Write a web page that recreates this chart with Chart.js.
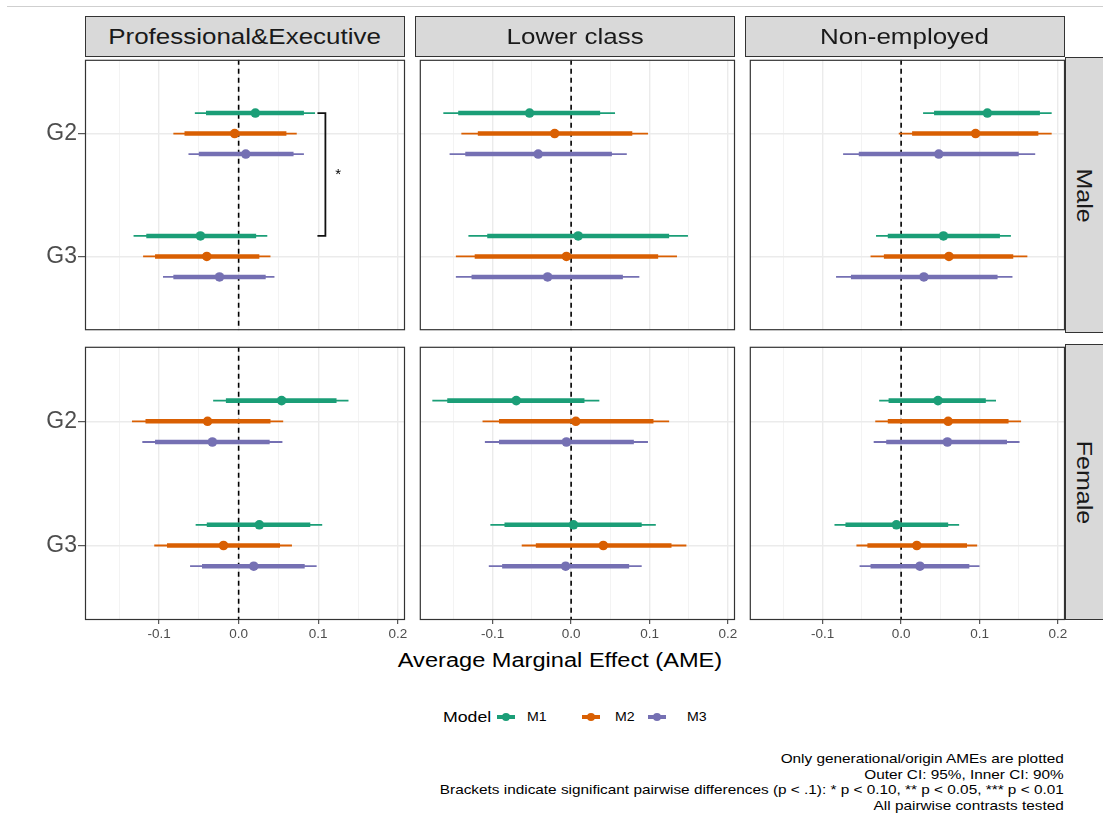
<!DOCTYPE html>
<html>
<head>
<meta charset="utf-8">
<title>Average Marginal Effect by class and gender</title>
<script src="https://cdn.jsdelivr.net/npm/chart.js@4.4.1/dist/chart.umd.min.js"></script>
<style>
  html, body { margin: 0; padding: 0; background: #fff; }
  body { width: 1103px; height: 820px; position: relative; overflow: hidden;
         font-family: "Liberation Sans", Arial, sans-serif; }
  .topline { position: absolute; left: 7px; right: 0; top: 6px; height: 1px; background: #cfcfcf; }
  canvas { position: absolute; }
  .strip { position: absolute; box-sizing: border-box; background: #d9d9d9; border: 1px solid #333;
           color: #1a1a1a; display: flex; align-items: center; justify-content: center; overflow: hidden; }
  .strip span { display: inline-block; white-space: nowrap; }
  .strip.top span { font-size: 22px; transform: scaleX(1.18); }
  .strip.side span { font-size: 25px; transform: rotate(90deg) scale(1, 0.9); }
  .xtitle { position: absolute; left: 560px; top: 648px; font-size: 20px; line-height: 24px;
            white-space: nowrap; transform: translateX(-50%) scaleX(1.18); }
  .legend-title { position: absolute; left: 443px; top: 708px; font-size: 15px; line-height: 18px;
                  transform: scaleX(1.18); transform-origin: left center; }
  .legend-key { position: absolute; top: 708px; width: 18px; height: 18px; }
  .legend-key .bar { position: absolute; left: 0; right: 0; top: 7px; height: 4px; }
  .legend-key .dot { position: absolute; left: 5px; top: 5px; width: 8px; height: 8px; border-radius: 50%; }
  .legend-label { position: absolute; top: 708px; font-size: 12px; line-height: 18px;
                  transform: scaleX(1.18); transform-origin: left center; }
  .caption { position: absolute; right: 39px; top: 751px; font-size: 13px; line-height: 15.5px;
             text-align: right; white-space: nowrap; transform: scaleX(1.18); transform-origin: right center; }
</style>
</head>
<body>
<div class="topline"></div>
<div class="xtitle">Average Marginal Effect (AME)</div>
<div id="legend"></div>
<div class="caption">
  <div>Only generational/origin AMEs are plotted</div>
  <div>Outer CI: 95%, Inner CI: 90%</div>
  <div>Brackets indicate significant pairwise differences (p &lt; .1): * p &lt; 0.10, ** p &lt; 0.05, *** p &lt; 0.01</div>
  <div>All pairwise contrasts tested</div>
</div>
<script>
const occupations = ["Professional&Executive", "Lower class", "Non-employed"];
const genders = ["Male", "Female"];
const groups = ["G2", "G3"];
const models = ["M1", "M2", "M3"];
const modelColors = ["#1b9e77", "#d95f02", "#7570b3"];

const xMajor = [-0.1, 0, 0.1, 0.2];
const xTickLabels = ["-0.1", "0.0", "0.1", "0.2"];
const xMinor = [-0.15, -0.05, 0.05, 0.15];

// order: Male (Prof G2, G3, Lower G2, G3, Non-emp G2, G3), then Female in the same order
const m1Est  = [0.021, -0.048, -0.053, 0.009, 0.110, 0.054, 0.054, 0.026, -0.070, 0.003, 0.047, -0.006];
const m1Lo95 = [-0.055, -0.132, -0.163, -0.131, 0.028, -0.032, -0.032, -0.054, -0.177, -0.103, -0.028, -0.085];
const m1Hi95 = [0.096, 0.036, 0.056, 0.149, 0.192, 0.140, 0.138, 0.105, 0.036, 0.108, 0.121, 0.074];
const m1Lo90 = [-0.041, -0.116, -0.144, -0.107, 0.042, -0.017, -0.016, -0.040, -0.158, -0.085, -0.016, -0.071];
const m1Hi90 = [0.082, 0.022, 0.037, 0.125, 0.177, 0.126, 0.123, 0.090, 0.017, 0.090, 0.108, 0.060];

const m2Est  = [-0.005, -0.040, -0.021, -0.006, 0.095, 0.061, -0.039, -0.019, 0.006, 0.041, 0.060, 0.020];
const m2Lo95 = [-0.082, -0.120, -0.140, -0.147, -0.003, -0.039, -0.134, -0.106, -0.113, -0.063, -0.033, -0.057];
const m2Hi95 = [0.073, 0.040, 0.098, 0.135, 0.192, 0.161, 0.056, 0.067, 0.125, 0.147, 0.153, 0.097];
const m2Lo90 = [-0.068, -0.105, -0.119, -0.123, 0.014, -0.022, -0.117, -0.090, -0.092, -0.045, -0.017, -0.043];
const m2Hi90 = [0.060, 0.026, 0.078, 0.111, 0.175, 0.143, 0.040, 0.052, 0.105, 0.128, 0.137, 0.084];

const m3Est  = [0.009, -0.024, -0.042, -0.030, 0.048, 0.029, -0.033, 0.019, -0.006, -0.007, 0.059, 0.024];
const m3Lo95 = [-0.063, -0.095, -0.155, -0.147, -0.074, -0.083, -0.121, -0.061, -0.110, -0.105, -0.035, -0.053];
const m3Hi95 = [0.082, 0.045, 0.071, 0.087, 0.171, 0.142, 0.055, 0.098, 0.098, 0.090, 0.151, 0.100];
const m3Lo90 = [-0.050, -0.082, -0.135, -0.127, -0.054, -0.064, -0.105, -0.046, -0.092, -0.088, -0.019, -0.039];
const m3Hi90 = [0.069, 0.034, 0.052, 0.066, 0.150, 0.123, 0.039, 0.083, 0.080, 0.074, 0.135, 0.087];

// significant pairwise differences: panel index, model index, bracket position, label
const bracketPanel = [0];
const bracketModel = [0];
const bracketX = [0.109];
const bracketLabel = ["*"];

const est = [m1Est, m2Est, m3Est];
const lo95 = [m1Lo95, m2Lo95, m3Lo95];
const hi95 = [m1Hi95, m2Hi95, m3Hi95];
const lo90 = [m1Lo90, m2Lo90, m3Lo90];
const hi90 = [m1Hi90, m2Hi90, m3Hi90];

// layout
const colLeft = [85, 415, 745];
const rowTop = [57, 344];
const panelW = 320, panelH = 276;
const dodge = [-1 / 6, 0, 1 / 6];

Chart.defaults.font.family = "'Liberation Sans', Arial, sans-serif";

const isMajor = v => xMajor.some(m => Math.abs(m - v) < 1e-9);

// panel frame + bracket labels
const panelExtras = {
    id: "panelExtras",
    afterDatasetsDraw(chart, args, opts) {
        const { ctx, chartArea: a, scales } = chart;
        ctx.save();
        (opts.stars || []).forEach(s => {
            ctx.fillStyle = "#000";
            ctx.font = "15px 'Liberation Sans', Arial, sans-serif";
            ctx.textAlign = "center";
            ctx.textBaseline = "middle";
            ctx.fillText(s.label, scales.x.getPixelForValue(s.x), scales.y.getPixelForValue(s.y));
        });
        ctx.strokeStyle = "#333";
        ctx.lineWidth = 1.2;
        ctx.strokeRect(a.left + 0.5, a.top + 0.5, a.right - a.left - 1, a.bottom - a.top - 1);
        ctx.restore();
    }
};

function segment(x1, x2, y, color, width, order) {
    return {
        data: [{ x: x1, y: y }, { x: x2, y: y }],
        showLine: true, borderColor: color, borderWidth: width, borderCapStyle: "butt",
        pointRadius: 0, pointHoverRadius: 0, order: order
    };
}

function makePanel(r, c) {
    const p = r * 3 + c;
    const padL = c === 0 ? 62 : 0;
    const axisH = r === 1 ? 30 : 0;
    const w = panelW + padL + 14;
    const h = panelH + axisH + 4;

    const canvas = document.createElement("canvas");
    canvas.width = w;
    canvas.height = h;
    canvas.style.width = w + "px";
    canvas.style.height = h + "px";
    canvas.style.left = (colLeft[c] - padL) + "px";
    canvas.style.top = (rowTop[r] - 2) + "px";
    document.body.appendChild(canvas);

    const datasets = [];
    // zero reference line
    datasets.push({
        data: [{ x: 0, y: 0.4 }, { x: 0, y: 2.6 }],
        showLine: true, borderColor: "#000", borderWidth: 1.6, borderDash: [5, 4],
        pointRadius: 0, order: 9
    });

    models.forEach((m, mi) => {
        const pts = [];
        groups.forEach((g, gi) => {
            const i = p * 2 + gi;
            const y = gi + 1 + dodge[mi];
            datasets.push(segment(lo95[mi][i], hi95[mi][i], y, modelColors[mi], 1.8, 4));
            datasets.push(segment(lo90[mi][i], hi90[mi][i], y, modelColors[mi], 4.6, 3));
            pts.push({ x: est[mi][i], y: y });
        });
        datasets.push({
            data: pts, backgroundColor: modelColors[mi], borderWidth: 0,
            pointRadius: 4.8, pointHoverRadius: 4.8, order: 2
        });
    });

    const stars = [];
    bracketPanel.forEach((bp, b) => {
        if (bp !== p) return;
        const y1 = 1 + dodge[bracketModel[b]];
        const y2 = 2 + dodge[bracketModel[b]];
        const x = bracketX[b];
        datasets.push({
            data: [{ x: x - 0.01, y: y1 }, { x: x, y: y1 }, { x: x, y: y2 }, { x: x - 0.01, y: y2 }],
            showLine: true, borderColor: "#111", borderWidth: 1.8, borderJoinStyle: "miter",
            pointRadius: 0, order: 1
        });
        stars.push({ x: x + 0.016, y: (y1 + y2) / 2, label: bracketLabel[b] });
    });

    new Chart(canvas, {
        type: "scatter",
        data: { datasets: datasets },
        options: {
            responsive: false,
            animation: false,
            events: [],
            layout: { padding: { top: 2, right: 14, bottom: 2, left: 0 } },
            plugins: {
                legend: { display: false },
                tooltip: { enabled: false },
                panelExtras: { stars: stars }
            },
            scales: {
                x: {
                    type: "linear", min: -0.193, max: 0.209,
                    afterBuildTicks: s => { s.ticks = xMinor.concat(xMajor).sort((a, b) => a - b).map(v => ({ value: v })); },
                    afterFit: s => { s.height = axisH; s.paddingLeft = 0; s.paddingRight = 0; },
                    border: { display: false },
                    grid: {
                        color: ctx => isMajor(ctx.tick.value) ? "#ebebeb" : "#f3f3f3",
                        lineWidth: ctx => isMajor(ctx.tick.value) ? 1.4 : 1,
                        drawTicks: r === 1, tickLength: 4, tickWidth: 1,
                        tickColor: ctx => isMajor(ctx.tick.value) ? "#333" : "rgba(0,0,0,0)"
                    },
                    ticks: {
                        display: r === 1, autoSkip: false, maxRotation: 0, padding: 2,
                        color: "#4d4d4d", font: { size: 13.5 },
                        callback: v => {
                            const k = xMajor.findIndex(m => Math.abs(m - v) < 1e-9);
                            return k >= 0 ? xTickLabels[k] : "";
                        }
                    }
                },
                y: {
                    type: "linear", min: 0.4, max: 2.6, reverse: true,
                    afterBuildTicks: s => { s.ticks = groups.map((g, gi) => ({ value: gi + 1 })); },
                    afterFit: s => { s.width = padL; s.paddingTop = 0; s.paddingBottom = 0; },
                    border: { display: false },
                    grid: {
                        color: "#ebebeb", lineWidth: 1.4,
                        drawTicks: c === 0, tickLength: 7, tickWidth: 1, tickColor: "#333"
                    },
                    ticks: {
                        display: c === 0, padding: 1, color: "#4d4d4d", font: { size: 23 },
                        callback: v => groups[Math.round(v) - 1]
                    }
                }
            }
        },
        plugins: [panelExtras]
    });
}

function addStrip(cls, left, top, width, height, text) {
    const d = document.createElement("div");
    d.className = "strip " + cls;
    d.style.left = left + "px";
    d.style.top = top + "px";
    d.style.width = width + "px";
    d.style.height = height + "px";
    const s = document.createElement("span");
    s.textContent = text;
    d.appendChild(s);
    document.body.appendChild(d);
}

genders.forEach((g, r) => {
    occupations.forEach((o, c) => makePanel(r, c));
    addStrip("side", colLeft[2] + panelW, rowTop[r], 40, panelH, g);
});
occupations.forEach((o, c) => addStrip("top", colLeft[c], 16, panelW, 41, o));

// legend
const legend = document.getElementById("legend");
legend.innerHTML = '<div class="legend-title">Model</div>';
const keyLeft = [497, 582, 648];
const labelLeft = [527, 615, 687];
models.forEach((m, mi) => {
    const key = document.createElement("div");
    key.className = "legend-key";
    key.style.left = keyLeft[mi] + "px";
    key.innerHTML = `<div class="bar" style="background:${modelColors[mi]}"></div>` +
                    `<div class="dot" style="background:${modelColors[mi]}"></div>`;
    legend.appendChild(key);
    const lab = document.createElement("div");
    lab.className = "legend-label";
    lab.style.left = labelLeft[mi] + "px";
    lab.textContent = m;
    legend.appendChild(lab);
});
</script>
</body>
</html>
